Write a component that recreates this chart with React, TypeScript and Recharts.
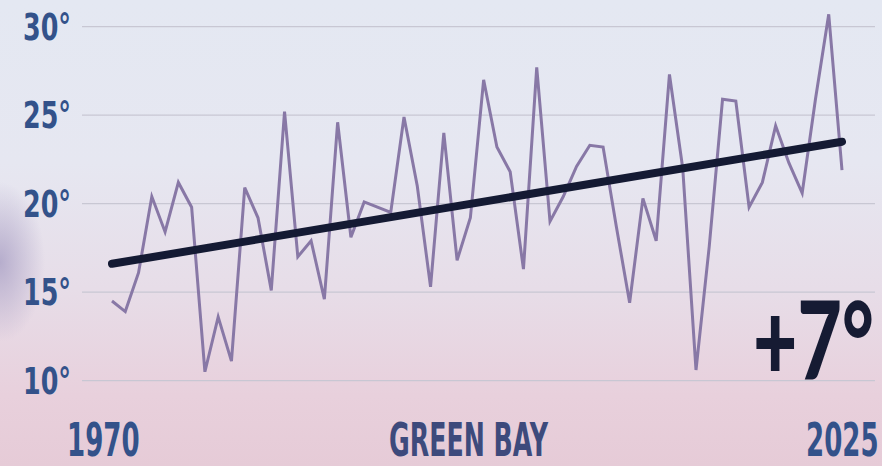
import { LineChart, Line, XAxis, YAxis, ReferenceLine } from 'recharts';

const years = [
  1970, 1971, 1972, 1973, 1974, 1975, 1976, 1977, 1978, 1979,
  1980, 1981, 1982, 1983, 1984, 1985, 1986, 1987, 1988, 1989,
  1990, 1991, 1992, 1993, 1994, 1995, 1996, 1997, 1998, 1999,
  2000, 2001, 2002, 2003, 2004, 2005, 2006, 2007, 2008, 2009,
  2010, 2011, 2012, 2013, 2014, 2015, 2016, 2017, 2018, 2019,
  2020, 2021, 2022, 2023, 2024, 2025,
];

// yearly temps
const temps = [
  14.5, 13.9, 16.1, 20.4, 18.4, 21.2, 19.8, 10.5, 13.6, 11.1,
  20.9, 19.2, 15.1, 25.2, 17.0, 17.9, 14.6, 24.6, 18.1, 20.1,
  19.8, 19.5, 24.9, 21.0, 15.3, 24.0, 16.8, 19.2, 27.0, 23.2,
  21.8, 16.3, 27.7, 19.0, 20.4, 22.1, 23.3, 23.2, 18.7, 14.4,
  20.3, 17.9, 27.3, 22.0, 10.6, 17.6, 25.9, 25.8, 19.8, 21.2,
  24.4, 22.3, 20.6, 25.9, 30.7, 21.9,
];

const yTicks = [10, 15, 20, 25, 30];
const trendStart = { year: 1970, temp: 16.6 };
const trendEnd = { year: 2025, temp: 23.5 };
const changeLabel = '+7°';
const cityLabel = 'GREEN BAY';

const condensed = "'DejaVu Sans Condensed', 'Liberation Sans Narrow', sans-serif";

const YTick = ({ y, payload }: any) => (
  <text
    x={23}
    y={y + 13}
    fontFamily={condensed}
    fontWeight="bold"
    fontSize={37}
    fill="#33528a"
    textLength={48}
    lengthAdjust="spacingAndGlyphs"
  >
    {`${payload.value}°`}
  </text>
);

// narrow text by squeezing it horizontally (the poster font is very condensed)
const Squeezed = ({ x, y, sx, children, ...rest }: any) => (
  <text transform={`translate(${x},${y}) scale(${sx},1)`} x={0} y={0} {...rest}>
    {children}
  </text>
);

export default function App() {
  const data = years.map((year, i) => ({ year, temp: temps[i] }));

  return (
    <div
      style={{
        position: 'absolute',
        left: 0,
        top: 0,
        width: 882,
        height: 466,
        overflow: 'hidden',
        background:
          'radial-gradient(ellipse 45px 80px at 0px 262px, rgba(150,140,185,0.6), rgba(150,140,185,0) 100%),' +
          'linear-gradient(180deg, #e4e8f2 0%, #e6e7f1 35%, #e7dde8 62%, #e8d0dc 85%, #e6cbd7 100%)',
      }}
    >
      <LineChart width={882} height={466} data={data} margin={{ top: 9, right: 7, bottom: 50, left: 0 }}>
        <XAxis
          dataKey="year"
          type="number"
          domain={[1970, 2025]}
          padding={{ left: 30, right: 33 }}
          hide
        />
        <YAxis
          domain={[8, 31]}
          ticks={yTicks}
          width={82}
          axisLine={false}
          tickLine={false}
          tick={<YTick />}
        />
        {yTicks.map((t) => (
          <ReferenceLine key={t} y={t} stroke="#c8c7d3" strokeWidth={1.2} />
        ))}
        <Line
          type="linear"
          dataKey="temp"
          stroke="#8878a6"
          strokeWidth={3}
          dot={false}
          isAnimationActive={false}
        />
        <ReferenceLine
          segment={[
            { x: trendStart.year, y: trendStart.temp },
            { x: trendEnd.year, y: trendEnd.temp },
          ]}
          stroke="#141a33"
          strokeWidth={8}
          strokeLinecap="round"
        />
      </LineChart>
      <svg
        width={882}
        height={466}
        style={{ position: 'absolute', left: 0, top: 0, pointerEvents: 'none' }}
      >
        <Squeezed
          x={753}
          y={380}
          sx={0.71}
          fontFamily="Lato, 'Open Sans', sans-serif"
          fontWeight={900}
          fontSize={108}
          fill="#161b33"
        >
          {changeLabel}
        </Squeezed>
        <g fontFamily={condensed} fontWeight="bold" fontSize={46}>
          <Squeezed x={67} y={456} sx={0.63} fill="#33528a">
            {years[0]}
          </Squeezed>
          <Squeezed x={389} y={456} sx={0.61} fill="#3d4a7c">
            {cityLabel}
          </Squeezed>
          <Squeezed x={806} y={456} sx={0.63} fill="#33528a">
            {years[years.length - 1]}
          </Squeezed>
        </g>
      </svg>
    </div>
  );
}
